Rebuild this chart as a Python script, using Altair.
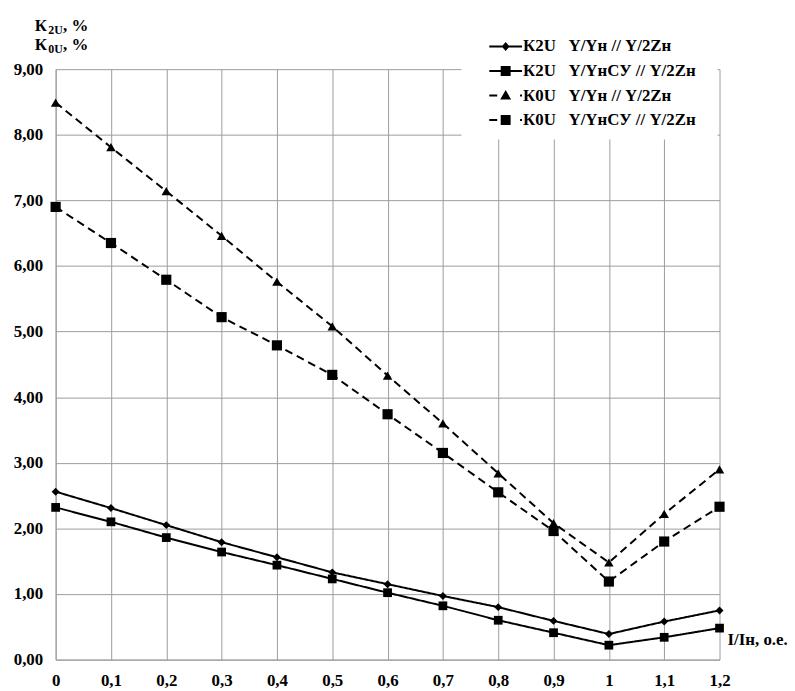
import altair as alt
import pandas as pd

# ---- data ----
x_vals = [0, 0.1, 0.2, 0.3, 0.4, 0.5, 0.6, 0.7, 0.8, 0.9, 1.0, 1.1, 1.2]
k2u_yn = [2.56, 2.31, 2.05, 1.79, 1.56, 1.33, 1.15, 0.97, 0.80, 0.59, 0.39, 0.58, 0.75]
k2u_ynsu = [2.32, 2.10, 1.86, 1.64, 1.44, 1.23, 1.02, 0.82, 0.60, 0.41, 0.22, 0.34, 0.48]
k0u_yn = [8.49, 7.81, 7.14, 6.46, 5.76, 5.08, 4.33, 3.60, 2.84, 2.08, 1.48, 2.22, 2.90]
k0u_ynsu = [6.90, 6.35, 5.79, 5.22, 4.79, 4.34, 3.74, 3.15, 2.55, 1.96, 1.19, 1.80, 2.33]

sp = "\u00a0\u00a0\u00a0"
series_names = [
    "К2U" + sp + "Y/Yн // Y/2Zн",
    "К2U" + sp + "Y/YнСУ // Y/2Zн",
    "К0U" + sp + "Y/Yн // Y/2Zн",
    "К0U" + sp + "Y/YнСУ // Y/2Zн",
]
series_values = [k2u_yn, k2u_ynsu, k0u_yn, k0u_ynsu]

x_ticks = [0, 0.1, 0.2, 0.3, 0.4, 0.5, 0.6, 0.7, 0.8, 0.9, 1.0, 1.1, 1.2]
y_ticks = [0, 1, 2, 3, 4, 5, 6, 7, 8, 9]

rows = []
for name, vals in zip(series_names, series_values):
    for xv, yv in zip(x_vals, vals):
        rows.append({"x": xv, "y": yv, "series": name})
df = pd.DataFrame(rows)

FONT = "Liberation Serif"
GRID = "#9c9c9c"

x_enc = alt.X(
    "x:Q",
    scale=alt.Scale(domain=[0, 1.2], nice=False, zero=False),
    axis=alt.Axis(
        values=x_ticks,
        labelExpr="replace(format(datum.value, '.1~f'), '.', ',')",
        title=None,
        grid=True,
        gridColor=GRID,
        domainColor=GRID,
        ticks=False,
        labelPadding=13,
        labelFont=FONT,
        labelFontSize=17,
        labelFontWeight="bold",
        labelColor="black",
        labelFlush=False,
        labelOverlap=False,
    ),
)
y_enc = alt.Y(
    "y:Q",
    scale=alt.Scale(domain=[0, 9], nice=False),
    axis=alt.Axis(
        values=y_ticks,
        labelExpr="replace(format(datum.value, '.2f'), '.', ',')",
        title=None,
        grid=True,
        gridColor=GRID,
        domainColor=GRID,
        ticks=False,
        labelPadding=13,
        labelFont=FONT,
        labelFontSize=17,
        labelFontWeight="bold",
        labelColor="black",
        labelFlush=False,
        labelOverlap=False,
    ),
)

base = alt.Chart(df)

lines = base.mark_line(strokeWidth=2, color="black").encode(
    x=x_enc,
    y=y_enc,
    detail="series:N",
    strokeDash=alt.StrokeDash(
        "series:N",
        scale=alt.Scale(domain=series_names, range=[[1, 0], [1, 0], [8, 5], [8, 5]]),
        legend=None,
    ),
)

points = base.mark_point(filled=True, color="black", opacity=1).encode(
    x="x:Q",
    y="y:Q",
    shape=alt.Shape(
        "series:N",
        scale=alt.Scale(domain=series_names, range=["diamond", "square", "triangle-up", "square"]),
        legend=None,
    ),
    size=alt.Size(
        "series:N",
        scale=alt.Scale(domain=series_names, range=[64, 105, 120, 105]),
        legend=None,
    ),
)

line_p = "M-1.65,-0.1L1.65,-0.1L1.65,0.1L-1.65,0.1Z"
dash_p = "M-1.65,-0.1L-0.85,-0.1L-0.85,0.1L-1.65,0.1Z M1.45,-0.1L1.65,-0.1L1.65,0.1L1.45,0.1Z"
diamond_p = "M0,-0.45L0.4,0L0,0.45L-0.4,0Z"
square_p = "M-0.5,-0.5L0.5,-0.5L0.5,0.5L-0.5,0.5Z"
tri_p = "M0,-0.55L0.55,0.4L-0.55,0.4Z"
legend_paths = [
    line_p + " " + diamond_p,
    line_p + " " + square_p,
    dash_p + " " + tri_p,
    dash_p + " " + square_p,
]

legend_layer = base.mark_point(filled=True, color="black").encode(
    shape=alt.Shape(
        "series:N",
        scale=alt.Scale(domain=series_names, range=legend_paths),
        legend=alt.Legend(
            title=None,
            orient="none",
            legendX=443.5,
            legendY=-32.8,
            padding=0,
            symbolSize=400,
            symbolFillColor="black",
            symbolStrokeColor="black",
            symbolStrokeWidth=0,
            symbolOpacity=1,
            labelOffset=7.5,
            rowPadding=6.7,
            labelFont=FONT,
            labelFontSize=17,
            labelFontWeight="bold",
            labelColor="black",
            labelLimit=400,
        ),
    ),
).transform_filter("false")

dummy = alt.Data(values=[{"a": 1}])

legend_bg = alt.Chart(dummy).mark_rect(fill="white", stroke="white", strokeWidth=0).encode(
    x=alt.value(409), x2=alt.value(667), y=alt.value(-59), y2=alt.value(71)
)


def txt(s, x, y, size):
    return alt.Chart(dummy).mark_text(
        text=s, font=FONT, fontSize=size, fontWeight="bold", color="black",
        align="left", baseline="alphabetic",
    ).encode(x=alt.value(x), y=alt.value(y))


title_parts = [
    txt("К", -21, -38, 17),
    txt("2U", -7.5, -35, 12),
    txt(", %", 7.5, -38, 17),
    txt("К", -21, -19, 17),
    txt("0U", -7.5, -16, 12),
    txt(", %", 7.5, -19, 17),
    txt("I/Iн, о.е.", 677, 580, 17),
]

chart = alt.layer(
    legend_bg, lines, points, legend_layer, *title_parts
).resolve_scale(
    shape="independent"
).properties(
    width=669,
    height=595,
    autosize=alt.AutoSizeParams(type="none"),
    padding={"left": 48, "top": 59, "right": 68, "bottom": 29},
).configure_view(strokeWidth=0)

chart.save("out.html", embed_options={"renderer": "svg", "actions": False})
